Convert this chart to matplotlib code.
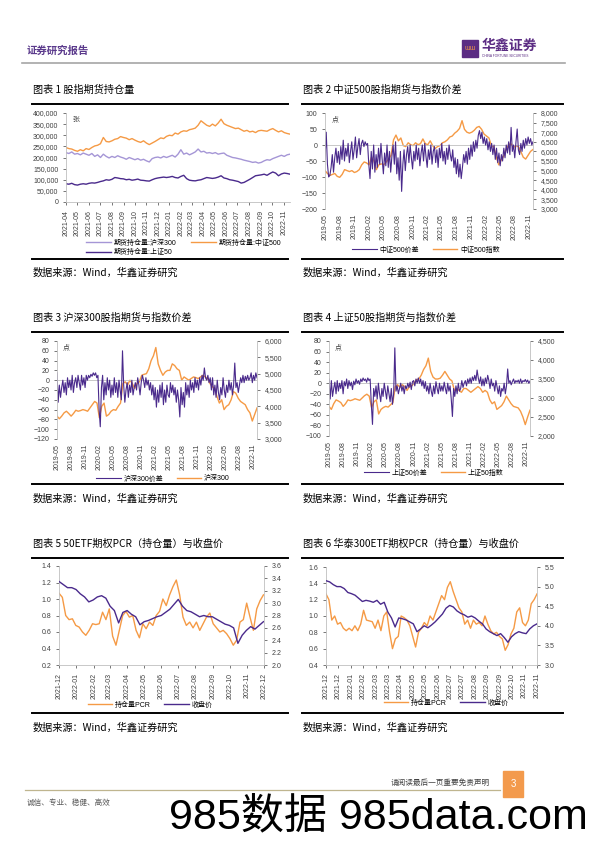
import numpy as np
import pandas as pd
import matplotlib
matplotlib.use('Agg')
import matplotlib.pyplot as plt
import matplotlib.dates as mdates
from matplotlib.lines import Line2D
from matplotlib.patches import Rectangle
from matplotlib.ticker import FuncFormatter

plt.rcParams['font.family'] = ['Liberation Sans', 'Noto Sans CJK SC', 'DejaVu Sans']

# ---------------- data ----------------
# chart 1: open interest (thousand contracts), 2021-04-01 .. 2022-11-18
oi_start, oi_end = '2021-04-01', '2022-11-18'
oi_zz500 = [245, 240, 238, 232, 228, 235, 230, 240, 236, 245, 252, 255, 262, 290, 272, 270,
            275, 282, 285, 294, 290, 287, 280, 285, 278, 272, 268, 275, 265, 258, 265, 272,
            280, 288, 285, 295, 300, 298, 310, 305, 315, 320, 318, 325, 328, 332, 345, 365,
            355, 345, 340, 350, 342, 355, 372, 352, 345, 340, 335, 330, 332, 325, 318, 322,
            315, 318, 312, 320, 322, 320, 318, 325, 330, 322, 315, 320, 312, 308, 305]
oi_hs300 = [222, 218, 225, 215, 218, 212, 220, 215, 210, 218, 205, 212, 200, 215, 205, 198,
            205, 200, 208, 202, 198, 192, 200, 195, 190, 195, 188, 192, 185, 180, 195, 200,
            202, 198, 205, 200, 205, 210, 202, 215, 235, 215, 220, 212, 218, 225, 238, 225,
            228, 220, 222, 218, 222, 215, 218, 220, 210, 205, 200, 198, 195, 192, 188, 185,
            182, 178, 180, 175, 178, 185, 190, 188, 195, 200, 205, 210, 205, 212, 215]
oi_sz50 = [82, 80, 84, 78, 76, 80, 82, 80, 84, 86, 85, 88, 92, 95, 100, 98,
           102, 110, 108, 105, 104, 100, 102, 98, 100, 103, 98, 97, 95, 94, 100, 105,
           108, 110, 112, 110, 112, 115, 110, 108, 115, 120, 105, 98, 96, 95, 98, 100,
           105, 110, 108, 106, 108, 112, 118, 108, 105, 100, 98, 95, 92, 85, 88, 95,
           102, 110, 118, 120, 122, 125, 120, 128, 135, 130, 118, 126, 130, 128, 125]

# charts 2-4: basis (points) and index level, 2019-05-01 .. 2022-11-25
bs_start, bs_end = '2019-05-01', '2022-11-25'
basis_zz500 = [-45, 40, -60, -100, -95, -70, -30, -85, -40, -10, -55, -20, -60, -5, -45, 15,
               -50, -10, -35, 5, -55, -20, 10, -45, -15, 25, -40, -5, 20, -30, 5, 15,
               -5, 10, 0, 5, -60, -105, -20, -75, 0, -85, -30, -70, -10, -60, 5, -45,
               -90, -25, -65, 0, -70, -20, -85, -35, 0, -60, 10, -90, -40, -110, -20, -145,
               -60, -15, -80, -30, -5, -55, 0, -40, -75, -20, -50, 0, -45, -10, -65, -25,
               0, -50, 5, -35, -70, -15, -45, 0, -60, -20, -5, -55, -15, -70, -10, -40,
               5, -50, -20, -60, -10, -45, 0, -30, -50, -15, -70, -40, -90, -45, -100, -60,
               -105, -70, -30, -55, -20, -60, -10, -45, 0, -35, 10, -20, 15, -10, 30, 45,
               20, 40, 5, 25, 0, 20, -15, 10, -20, 5, -30, 0, -45, -10, -55, -25,
               -65, -30, -50, -10, -40, 0, -25, 10, -30, 55, -20, 0, -40, 10, 50, -15,
               -30, 5, -20, 15, -10, 20, 0, 25, 5, 20, 0, 10]
index_zz500 = [5000, 4850, 4750, 4800, 4850, 4700, 4650, 4800, 5050, 5000, 4950, 5000,
               4900, 4950, 5050, 5300, 5450, 5400, 5300, 5700, 5500, 5050, 5300, 5350,
               5300, 5450, 5600, 5800, 6600, 6850, 6550, 6700, 6300, 6250, 6450, 6350,
               6300, 6450, 6350, 6400, 6650, 6400, 6350, 6550, 6300, 6150, 6250, 6300,
               6450, 6500, 6600, 6750, 6800, 6950, 7050, 7200, 7600, 7150, 7000, 6950,
               7000, 7100, 7250, 7300, 7150, 6900, 6800, 6700, 6300, 6250, 5700, 5300,
               5550, 5750, 6100, 6350, 6400, 6200, 6300, 6250, 6000, 5700, 5600, 5800,
               6000, 6100]
basis_hs300 = [15, -45, -10, -35, -15, 0, -25, -5, -30, 5, -15, 0, -20, 10, -25, -5,
               5, -15, 10, -5, -20, 10, -10, 5, -15, 10, 0, 10, 5, 12, 8, 15,
               10, 15, 5, 10, -60, -95, -15, 10, -40, -5, -30, 5, -20, 0, -35, -10,
               -30, 5, -25, -5, -35, 0, -20, -40, 60, -10, -45, -20, -5, -35, -10, -25,
               0, -30, -15, -5, -20, 5, -10, -30, -5, 10, 0, -15, 5, -10, 0, -20,
               -5, -30, -10, -40, -15, -55, -20, -45, -10, -35, -5, -50, -20, -45, -10, -30,
               -35, -5, -25, -10, -30, -15, -45, -20, -40, -75, -15, -50, -25, -55, -5, -30,
               -10, -35, 0, -20, -5, -25, 5, -15, 0, -20, 5, -10, 10, 0, 25, 5,
               0, 10, -5, 5, -20, 5, -30, -10, -35, 0, -25, -40, -15, -30, 5, -20,
               -35, -10, -25, 0, -20, -5, -30, -10, 35, -15, -5, -25, -10, 5, -5, 10,
               -5, 8, 0, 10, 0, 5, 15, -5, 10, 0, 15, 5]
index_hs300 = [3700, 3620, 3700, 3800, 3850, 3780, 3700, 3780, 3880, 3850, 3870, 3900,
               3880, 3850, 3950, 4050, 4150, 4100, 3650, 4000, 4100, 3700, 3750, 3850,
               3900, 3880, 4000, 4100, 4700, 4750, 4650, 4800, 4700, 4550, 4700, 4750,
               4950, 4980, 5000, 5150, 5400, 5550, 5800, 5300, 5100, 4950, 5050, 5100,
               5100, 5300, 5250, 5150, 5100, 4800, 4900, 4850, 4800, 4850, 4900, 4880,
               4850, 4900, 4950, 4900, 4850, 4700, 4600, 4550, 4300, 4100, 4200, 3900,
               4000, 4050, 4200, 4450, 4400, 4250, 4150, 4100, 4050, 3900, 3800, 3550,
               3750, 3950]
basis_sz50 = [8, -30, 5, -25, -10, 2, -20, 5, -15, 0, -10, 5, -20, 3, -5, 8,
              -10, 5, -5, 2, -12, 4, -3, 8, 0, 5, -2, 8, 3, 10, 5, 8,
              2, 10, 5, 8, -40, -78, -10, -25, -5, -30, 0, -20, -35, -10, -25, 0,
              -15, -30, -5, -20, -35, -10, -40, -20, 67, -15, -5, -20, -10, 0, -15, -5,
              -20, -5, -10, 0, -8, 2, -12, 3, 5, -5, 8, 0, 10, 0, 8, -5,
              5, -10, 3, -15, -5, -20, 0, -15, -25, -5, -20, 3, -10, -20, 0, -15,
              -5, -15, 2, -10, -20, 0, -15, -5, -30, -63, -10, -25, -5, -20, 0, -15,
              -10, 5, -8, 0, 5, -5, 8, 0, 10, 0, 12, 5, 15, 5, 25, 10,
              0, 12, -5, 8, -5, 10, 0, 15, 5, -10, 8, -5, 0, -15, 5, -8,
              -20, -5, -25, -10, -15, 0, -20, -5, 27, 0, 5, -3, 3, 8, 0, 5,
              2, 6, 0, 8, 0, 5, 3, 7, 2, 6, 0, 4]
index_sz50 = [2780, 2700, 2850, 2950, 2920, 2880, 2780, 2850, 2950, 2930, 2950, 2980,
              2960, 2940, 3000, 3060, 3100, 3050, 2750, 2900, 2950, 2580, 2700, 2750,
              2780, 2760, 2820, 2880, 3300, 3350, 3280, 3350, 3300, 3200, 3300, 3320,
              3400, 3480, 3500, 3600, 3750, 3850, 4050, 3700, 3550, 3500, 3500, 3520,
              3600, 3700, 3600, 3500, 3450, 3200, 3250, 3200, 3150, 3250, 3250, 3200,
              3150, 3200, 3250, 3300, 3250, 3150, 3200, 3150, 2950, 2850, 2900, 2700,
              2750, 2800, 2900, 3050, 2950, 2850, 2780, 2760, 2740, 2650, 2500, 2300,
              2500, 2680]

# chart 5: 50ETF option PCR and close, 2021-12-01 .. 2022-11-30
e5_start, e5_end = '2021-12-01', '2022-11-30'
pcr_50 = [1.07, 1.02, 0.80, 0.75, 0.76, 0.68, 0.66, 0.60, 0.56, 0.62,
          0.70, 0.69, 0.70, 0.84, 0.75, 0.88, 0.55, 0.44, 0.62, 0.80,
          0.85, 0.78, 0.80, 0.62, 0.53, 0.70, 0.64, 0.72, 0.68, 0.80,
          0.85, 1.00, 0.92, 1.05, 1.15, 1.23, 1.05, 0.78, 0.68, 0.72,
          0.65, 0.72, 0.62, 0.70, 0.78, 0.83, 0.70, 0.65, 0.60, 0.62,
          0.58, 0.52, 0.44, 0.50, 0.72, 0.75, 0.95, 0.78, 0.62, 0.88, 0.98, 1.05]
close_50 = [3.35, 3.30, 3.25, 3.25, 3.22, 3.15, 3.10, 3.02, 3.05, 3.10, 3.12, 3.08,
            2.95, 2.88, 2.68, 2.85, 2.88, 2.82, 2.78, 2.65, 2.70, 2.72, 2.75, 2.78,
            2.80, 2.85, 2.90, 2.98, 3.06, 2.95, 2.88, 2.86, 2.82, 2.78, 2.80, 2.78,
            2.78, 2.74, 2.70, 2.66, 2.64, 2.60, 2.35, 2.48, 2.56, 2.62, 2.58, 2.64, 2.70]

# chart 6: Huatai 300ETF option PCR and close
e6_start, e6_end = '2021-12-01', '2022-11-25'
pcr_300 = [1.27, 1.20, 0.95, 1.00, 0.90, 0.92, 0.85, 0.82, 0.85, 0.82,
           0.88, 0.82, 0.90, 1.07, 0.95, 0.94, 0.93, 0.85, 0.95, 0.82,
           1.00, 1.05, 0.80, 0.60, 0.72, 0.75, 1.00, 0.98, 0.95, 0.88,
           0.75, 0.62, 0.80, 0.85, 0.92, 0.88, 1.00, 0.95, 1.05, 1.15,
           1.25, 1.20, 1.35, 1.42, 1.30, 1.20, 1.10, 1.05, 0.90, 0.95,
           0.85, 0.95, 0.90, 0.92, 0.88, 1.00, 0.90, 0.82, 0.78, 0.80,
           0.75, 0.72, 0.58, 0.65, 0.78, 0.85, 1.05, 1.10, 0.92, 0.88,
           0.95, 1.15, 1.20, 1.27]
close_300 = [5.15, 5.12, 5.05, 5.00, 5.00, 4.95, 4.85, 4.82, 4.78, 4.70, 4.62, 4.65,
             4.63, 4.60, 4.65, 4.55, 4.60, 4.35, 4.20, 3.97, 4.20, 4.18, 4.15, 4.10,
             4.05, 3.85, 3.92, 4.00, 3.95, 4.02, 4.10, 4.20, 4.30, 4.45, 4.52, 4.48,
             4.38, 4.32, 4.28, 4.22, 4.25, 4.20, 4.12, 4.05, 3.92, 3.85, 3.80, 3.75,
             3.80, 3.70, 3.58, 3.72, 3.80, 3.85, 3.82, 3.80, 3.92, 4.00, 4.05]
e6_labels = ['2021-12', '2021-12', '2022-01', '2022-02', '2022-03', '2022-03',
             '2022-04', '2022-05', '2022-05', '2022-06', '2022-07', '2022-07',
             '2022-08', '2022-09', '2022-09', '2022-10', '2022-11', '2022-11']

# ---------------- style ----------------
W, H = 596, 842
PURPLE = '#4A2A8C'
LPURPLE = '#A596D6'
ORANGE = '#F59A45'
AXC = '#BFBFBF'
TXT = '#404040'

fig = plt.figure(figsize=(W / 100, H / 100), dpi=100)


def add_ax(l, t, r, b):
    return fig.add_axes([l / W, 1 - b / H, (r - l) / W, (b - t) / H])


def ftext(x, y, s, **kw):
    fig.text(x / W, 1 - y / H, s, **kw)


def hline(x0, x1, y, color='black', lw=1.4):
    fig.add_artist(Line2D([x0 / W, x1 / W], [1 - y / H, 1 - y / H], color=color, lw=lw))


def style(ax, twin=None):
    for s in ['top', 'right', 'bottom']:
        ax.spines[s].set_visible(False)
    ax.spines['left'].set_color(AXC)
    ax.spines['left'].set_linewidth(0.6)
    ax.tick_params(labelsize=5, colors=TXT, length=2, width=0.5)
    ax.tick_params(axis='x', labelrotation=90, length=0)
    ax.set_facecolor('none')
    if twin is not None:
        for s in ['top', 'left', 'bottom']:
            twin.spines[s].set_visible(False)
        twin.spines['right'].set_color(AXC)
        twin.spines['right'].set_linewidth(0.6)
        twin.tick_params(labelsize=5, colors=TXT, length=2, width=0.5)


def frame(x0, x1, top, bottom, title, src_y):
    ftext(x0 + 1, top - 14, title, fontsize=7.3, va='center', family=['Noto Sans CJK SC'])
    hline(x0, x1, top)
    hline(x0, x1, bottom)
    ftext(x0 + 1, src_y, '数据来源：Wind，华鑫证券研究', fontsize=7.3, va='center',
          family=['Noto Sans CJK SC'])


thou = FuncFormatter(lambda v, p: f'{v:,.0f}')
one = FuncFormatter(lambda v, p: f'{v:.1f}')

# ---------------- header / footer ----------------
ftext(27, 51, '证券研究报告', fontsize=7.5, color='#5B3A8C', weight='bold', va='center')
hline(22, 565, 63, color='#A6A6A6', lw=1.2)
fig.add_artist(Rectangle((462 / W, 1 - 57 / H), 16 / W, 17 / H, color='#5B2C83'))
ftext(470, 49, 'ƜƜ', fontsize=4.5, color='#F59A45', ha='center', va='center')
ftext(482, 46, '华鑫证券', fontsize=10, color='#5B2C83', weight='bold', va='center')
ftext(482, 56, 'CHINA FORTUNE SECURITIES', fontsize=2.3, color='#5B2C83', va='center')

hline(25, 500, 790, color='#BFB58F', lw=0.9)
ftext(490, 783, '请阅读最后一页重要免责声明', fontsize=5.5, color='#404040', ha='right', va='center')
fig.add_artist(Rectangle((503 / W, 1 - 797 / H), 20 / W, 26 / H, color='#F39A4C'))
ftext(513, 784, '3', fontsize=7, color='white', ha='center', va='center')
ftext(27, 803, '诚信、专业、稳健、高效', fontsize=5.5, color='#595959', va='center')
ftext(378, 817, '985数据 985data.com', fontsize=31, color='black', ha='center', va='center')

# ---------------- chart 1 ----------------
frame(32, 288, 104, 259, '图表 1 股指期货持仓量', 273)
ax = add_ax(66, 113, 290, 202)
d1 = pd.date_range(oi_start, oi_end, periods=len(oi_zz500))
ax.plot(d1, np.array(oi_hs300) * 1000, color=LPURPLE, lw=1.0, label='期货持仓量:沪深300')
ax.plot(d1, np.array(oi_sz50) * 1000, color=PURPLE, lw=1.0, label='期货持仓量:上证50')
ax.plot(d1, np.array(oi_zz500) * 1000, color=ORANGE, lw=1.0, label='期货持仓量:中证500')
style(ax)
ax.spines['bottom'].set_visible(True)
ax.spines['bottom'].set_color(AXC)
ax.spines['bottom'].set_linewidth(0.6)
ax.set_ylim(0, 400000)
ax.set_yticks(np.arange(0, 400001, 50000))
ax.yaxis.set_major_formatter(thou)
ax.set_xlim(pd.Timestamp(oi_start), pd.Timestamp(oi_end))
ax.xaxis.set_major_locator(mdates.MonthLocator())
ax.xaxis.set_major_formatter(mdates.DateFormatter('%Y-%m'))
ax.tick_params(axis='x', length=2)
ax.text(0.03, 0.95, '张', transform=ax.transAxes, fontsize=5, color=TXT, va='top')
h, l = ax.get_legend_handles_labels()
fig.legend(h, l, loc='upper left', bbox_to_anchor=(80 / W, 1 - 233 / H), ncol=2, fontsize=5,
           frameon=False, handlelength=3.5, columnspacing=2.2, labelspacing=0.35, handletextpad=0.4)


# ---------------- charts 2-4 ----------------
def basis_chart(box, ylim, ystep, rlim, rstep, basis, index, lab_b, lab_i, leg_xy, unit_xy):
    ax = add_ax(*box)
    tw = ax.twinx()
    db = pd.date_range(bs_start, bs_end, periods=len(basis))
    di = pd.date_range(bs_start, bs_end, periods=len(index))
    ax.axhline(0, color=AXC, lw=0.6, zorder=1)
    ax.plot(db, basis, color=PURPLE, lw=0.8, label=lab_b, zorder=2)
    tw.plot(di, index, color=ORANGE, lw=1.0, label=lab_i)
    ax.set_zorder(tw.get_zorder() + 1)
    style(ax, tw)
    ax.set_ylim(*ylim)
    ax.set_yticks(np.arange(ylim[0], ylim[1] + 1, ystep))
    tw.set_ylim(*rlim)
    tw.set_yticks(np.arange(rlim[0], rlim[1] + 1, rstep))
    tw.yaxis.set_major_formatter(thou)
    ax.set_xlim(pd.Timestamp(bs_start), pd.Timestamp(bs_end))
    ax.xaxis.set_major_locator(mdates.MonthLocator(bymonth=[2, 5, 8, 11]))
    ax.xaxis.set_major_formatter(mdates.DateFormatter('%Y-%m'))
    ax.text(unit_xy[0], unit_xy[1], '点', transform=ax.transAxes, fontsize=5, color=TXT, va='top')
    h1, l1 = ax.get_legend_handles_labels()
    h2, l2 = tw.get_legend_handles_labels()
    fig.legend(h1 + h2, l1 + l2, loc='center', bbox_to_anchor=(leg_xy[0] / W, 1 - leg_xy[1] / H),
               ncol=2, fontsize=5, frameon=False, handlelength=3.5, columnspacing=2.0,
               handletextpad=0.4)


frame(302, 563, 104, 259, '图表 2 中证500股指期货与指数价差', 273)
basis_chart((325, 113, 533, 209), (-200, 100), 50, (3000, 8000), 500,
            basis_zz500, index_zz500, '中证500价差', '中证500指数', (426, 250), (0.03, 0.97))

frame(32, 288, 332, 484, '图表 3 沪深300股指期货与指数价差', 499)
basis_chart((57, 341, 257, 439), (-120, 80), 20, (3000, 6000), 500,
            basis_hs300, index_hs300, '沪深300价差', '沪深300', (163, 479), (0.03, 0.97))

frame(302, 563, 332, 484, '图表 4 上证50股指期货与指数价差', 499)
basis_chart((329, 341, 530, 436), (-100, 80), 20, (2000, 4500), 500,
            basis_sz50, index_sz50, '上证50价差', '上证50指数', (434, 473), (0.03, 0.97))


# ---------------- charts 5-6 ----------------
def pcr_chart(box, ylim, rlim, rstep, pcr, close, start, end, leg_xy, labels=None):
    ax = add_ax(*box)
    tw = ax.twinx()
    dp = pd.date_range(start, end, periods=len(pcr))
    dc = pd.date_range(start, end, periods=len(close))
    ax.plot(dp, pcr, color=ORANGE, lw=1.0, label='持仓量PCR')
    tw.plot(dc, close, color=PURPLE, lw=1.0, label='收盘价')
    style(ax, tw)
    ax.spines['bottom'].set_visible(True)
    ax.spines['bottom'].set_color(AXC)
    ax.spines['bottom'].set_linewidth(0.6)
    ax.set_ylim(*ylim)
    ax.set_yticks(np.arange(ylim[0], ylim[1] + 0.01, 0.2))
    ax.yaxis.set_major_formatter(one)
    tw.set_ylim(*rlim)
    tw.set_yticks(np.arange(rlim[0], rlim[1] + 0.01, rstep))
    tw.yaxis.set_major_formatter(one)
    ax.set_xlim(pd.Timestamp(start), pd.Timestamp(end))
    if labels is None:
        ax.set_xlim(pd.Timestamp(start), pd.Timestamp('2022-12-01'))
        ax.xaxis.set_major_locator(mdates.MonthLocator())
        ax.xaxis.set_major_formatter(mdates.DateFormatter('%Y-%m'))
    else:
        x0, x1 = ax.get_xlim()
        ax.set_xticks(np.linspace(x0, x1, len(labels)))
        ax.set_xticklabels(labels)
    ax.tick_params(axis='x', length=2)
    h1, l1 = ax.get_legend_handles_labels()
    h2, l2 = tw.get_legend_handles_labels()
    fig.legend(h1 + h2, l1 + l2, loc='center', bbox_to_anchor=(leg_xy[0] / W, 1 - leg_xy[1] / H),
               ncol=2, fontsize=5, frameon=False, handlelength=3.5, columnspacing=2.0,
               handletextpad=0.4)


frame(32, 288, 558, 713, '图表 5 50ETF期权PCR（持仓量）与收盘价', 728)
pcr_chart((59, 566, 264, 665), (0.2, 1.4), (2.0, 3.6), 0.2, pcr_50, close_50,
          e5_start, e5_end, (150, 705))

frame(302, 563, 558, 713, '图表 6 华泰300ETF期权PCR（持仓量）与收盘价', 728)
pcr_chart((326, 567, 537, 665), (0.4, 1.6), (3.0, 5.5), 0.5, pcr_300, close_300,
          e6_start, e6_end, (446, 703), labels=e6_labels)

fig.savefig('out.png', dpi=100)
